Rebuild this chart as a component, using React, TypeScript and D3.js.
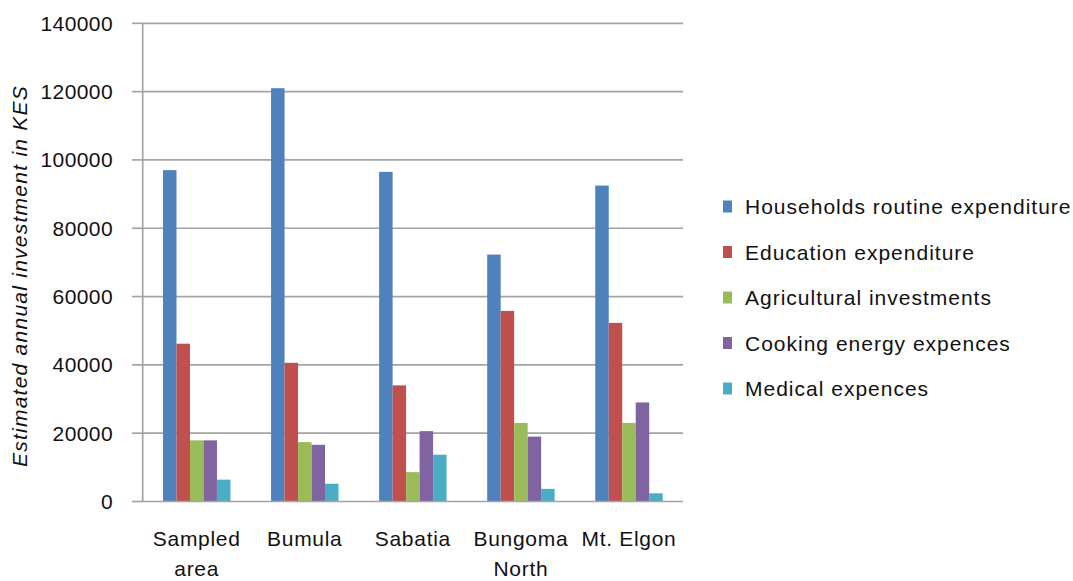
import React from "react";
import * as d3 from "d3";

const categories = ["Sampled area", "Bumula", "Sabatia", "Bungoma North", "Mt. Elgon"];
const categoryLines = [["Sampled", "area"], ["Bumula"], ["Sabatia"], ["Bungoma", "North"], ["Mt. Elgon"]];
const seriesNames = [
  "Households routine expenditure",
  "Education expenditure",
  "Agricultural investments",
  "Cooking energy expences",
  "Medical expences",
];
const seriesColors = ["#4F81BD", "#C0504D", "#9BBB59", "#8064A2", "#4BACC6"];
const households = [97000, 121000, 96500, 72300, 92500];
const education = [46200, 40600, 34000, 55800, 52300];
const agricultural = [17900, 17400, 8600, 23000, 23000];
const cooking = [17900, 16600, 20600, 19000, 29000];
const medical = [6400, 5200, 13700, 3700, 2400];
const seriesValues = [households, education, agricultural, cooking, medical];
const yTicks = [0, 20000, 40000, 60000, 80000, 100000, 120000, 140000];

const W = 1073;
const H = 581;
const left = 142.7;
const right = 683;
const top = 23.3;
const bottom = 501.5;
const FONT = "'Liberation Sans', Arial, sans-serif";

export default function App() {
  const x = d3.scaleBand<string>().domain(categories).range([left, right]).paddingInner(0.376).paddingOuter(0.188);
  const xs = d3.scaleBand<number>().domain(d3.range(seriesNames.length)).range([0, x.bandwidth()]);
  const y = d3.scaleLinear().domain([0, 140000]).range([bottom, top]);
  const legendY = d3.scaleLinear().domain([0, 4]).range([206.5, 388.5]);

  return (
    <svg width={W} height={H} style={{ position: "absolute", left: 0, top: 0, background: "#fff" }}>
      <rect width={W} height={H} fill="#fff" />
      {yTicks.map((t) => (
        <g key={t}>
          {t > 0 && <line x1={left} x2={right} y1={y(t)} y2={y(t)} stroke="#a4a4a4" strokeWidth={1.7} />}
          <line x1={132} x2={left} y1={y(t)} y2={y(t)} stroke="#a4a4a4" strokeWidth={1.7} />
          <text x={113} y={y(t)} dy="0.36em" textAnchor="end" fontFamily={FONT} fontSize={21} fill="#111" letterSpacing={0.4}>
            {t}
          </text>
        </g>
      ))}
      {seriesValues.map((vals, si) =>
        vals.map((v, ci) => (
          <rect
            key={`${si}-${ci}`}
            x={(x(categories[ci]) as number) + (xs(si) as number)}
            y={y(v)}
            width={xs.bandwidth()}
            height={bottom - y(v)}
            fill={seriesColors[si]}
          />
        ))
      )}
      <line x1={left} x2={left} y1={top} y2={bottom} stroke="#a4a4a4" strokeWidth={1.7} />
      <line x1={left} x2={right} y1={bottom} y2={bottom} stroke="#a4a4a4" strokeWidth={1.7} />
      {categories.map((c, ci) => (
        <text key={c} textAnchor="middle" fontFamily={FONT} fontSize={21} fill="#111" letterSpacing={0.7}>
          {categoryLines[ci].map((ln, li) => (
            <tspan key={li} x={(x(c) as number) + x.bandwidth() / 2} y={546 + li * 30}>
              {ln}
            </tspan>
          ))}
        </text>
      ))}
      <text
        transform={`translate(27,276) rotate(-90)`}
        textAnchor="middle"
        fontFamily={FONT}
        fontSize={21}
        fontStyle="italic"
        fill="#111"
        letterSpacing={1.25}
      >
        Estimated annual investment in KES
      </text>
      {seriesNames.map((s, i) => (
        <g key={s}>
          <rect x={723} y={legendY(i) - 6} width={9} height={12} fill={seriesColors[i]} />
          <text x={745} y={legendY(i)} dy="0.36em" fontFamily={FONT} fontSize={21} fill="#111" letterSpacing={1.0}>
            {s}
          </text>
        </g>
      ))}
    </svg>
  );
}
